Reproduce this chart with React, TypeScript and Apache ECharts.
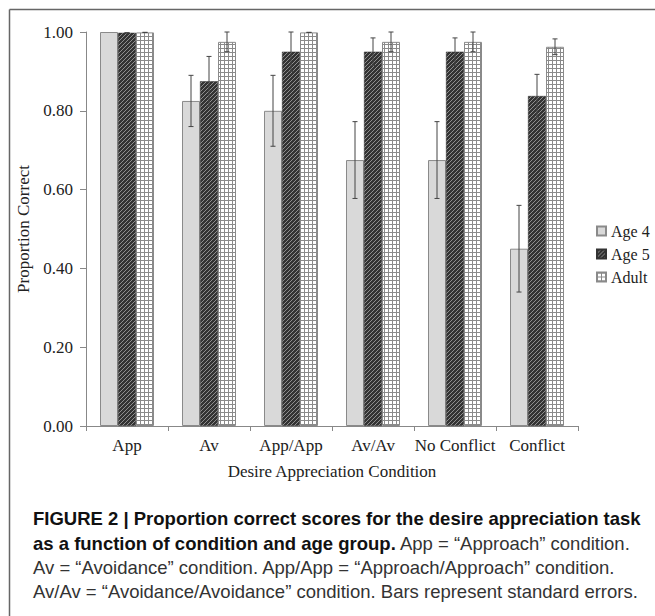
import React, { useEffect, useRef } from "react";
import * as echarts from "echarts";

const categories = ["App", "Av", "App/App", "Av/Av", "No Conflict", "Conflict"];
const seriesNames = ["Age 4", "Age 5", "Adult"];
const age4 = [1.0, 0.825, 0.8, 0.675, 0.675, 0.45];
const age5 = [0.998, 0.875, 0.95, 0.95, 0.95, 0.8375];
const adult = [0.999, 0.975, 0.999, 0.975, 0.975, 0.9625];
const age4Err = [null, 0.065, 0.09, 0.0975, 0.0975, 0.11];
const age5Err = [0, 0.063, 0.05, 0.035, 0.035, 0.055];
const adultErr = [0, 0.025, 0, 0.025, 0.025, 0.02];
const yTicks = [0, 0.2, 0.4, 0.6, 0.8, 1.0];

const captionLines = [
  [{ t: "FIGURE 2 | Proportion correct scores for the desire appreciation task", b: true }],
  [
    { t: "as a function of condition and age group.", b: true },
    { t: " App = \u201cApproach\u201d condition.", b: false },
  ],
  [{ t: "Av = \u201cAvoidance\u201d condition. App/App = \u201cApproach/Approach\u201d condition.", b: false }],
  [{ t: "Av/Av = \u201cAvoidance/Avoidance\u201d condition. Bars represent standard errors.", b: false }],
];

function makeTile(draw: (ctx: CanvasRenderingContext2D) => void, size: number) {
  const c = document.createElement("canvas");
  c.width = size;
  c.height = size;
  const ctx = c.getContext("2d")!;
  draw(ctx);
  return c;
}

export default function App() {
  const ref = useRef<HTMLDivElement>(null);
  useEffect(() => {
    document.body.style.margin = "0";
    if (!ref.current) return;
    const chart = echarts.init(ref.current, undefined, { renderer: "svg" });

    const darkTile = makeTile((ctx) => {
      ctx.fillStyle = "#333333";
      ctx.fillRect(0, 0, 4, 4);
      ctx.fillStyle = "#8f8f8f";
      for (let i = 0; i < 4; i++) ctx.fillRect(i, 3 - i, 1, 1);
    }, 4);
    const gridTile = makeTile((ctx) => {
      ctx.fillStyle = "#ffffff";
      ctx.fillRect(0, 0, 4, 4);
      ctx.fillStyle = "#8a8a8a";
      ctx.fillRect(0, 0, 4, 1);
      ctx.fillRect(0, 0, 1, 4);
    }, 4);

    const barW = 18;
    const values = [age4, age5, adult];
    const errs = [age4Err, age5Err, adultErr];
    const styles: any[] = [
      { color: "#d9d9d9", borderColor: "#8a8a8a", borderWidth: 1 },
      {
        color: { image: darkTile, repeat: "repeat", imageWidth: 4, imageHeight: 4 },
        borderColor: "#333",
        borderWidth: 0.5,
      },
      {
        color: { image: gridTile, repeat: "repeat", imageWidth: 4, imageHeight: 4 },
        borderColor: "#8a8a8a",
        borderWidth: 1,
      },
    ];

    const barSeries = seriesNames.map((name, i) => ({
      name,
      type: "bar",
      data: values[i],
      barWidth: barW,
      barGap: "0%",
      itemStyle: styles[i],
      z: 2,
    }));

    const errSeries = seriesNames.map((name, i) => ({
      name: name + " err",
      type: "custom",
      z: 5,
      data: values[i]
        .map((v, ci) => [ci, v, errs[i][ci]])
        .filter((d) => d[2] !== null),
      renderItem: (params: any, api: any) => {
        const ci = api.value(0);
        const v = api.value(1);
        const e = api.value(2);
        const cx = api.coord([ci, v])[0] + (i - 1) * barW;
        const top = api.coord([ci, Math.min(1, v + e)])[1];
        const bot = api.coord([ci, v - e])[1];
        const cap = 2.5;
        const st = { stroke: "#454545", lineWidth: 1 };
        return {
          type: "group",
          children: [
            { type: "line", shape: { x1: cx, y1: top, x2: cx, y2: bot }, style: st },
            { type: "line", shape: { x1: cx - cap, y1: top, x2: cx + cap, y2: top }, style: st },
            { type: "line", shape: { x1: cx - cap, y1: bot, x2: cx + cap, y2: bot }, style: st },
          ],
        };
      },
    }));

    const serif = "'Liberation Serif', 'DejaVu Serif', serif";
    const sans = "'Liberation Sans', Arial, sans-serif";

    const captionGraphics = captionLines.map((parts, li) => {
      const rich: any = {
        b: { fontFamily: sans, fontWeight: "bold", fontSize: 18.5, fill: "#111" },
        n: { fontFamily: sans, fontWeight: "normal", fontSize: 18.5, fill: "#333" },
      };
      const text = parts.map((p) => `{${p.b ? "b" : "n"}|${p.t}}`).join("");
      return {
        type: "text",
        x: 33,
        y: [518, 543, 567, 591][li],
        style: { text, rich, fontFamily: sans, fontSize: 18.5, verticalAlign: "middle" },
      };
    });

    chart.setOption({
      animation: false,
      backgroundColor: "#ffffff",
      grid: { left: 86, right: 77, top: 32, bottom: 190 },
      legend: {
        data: seriesNames,
        orient: "vertical",
        left: 596,
        top: 223,
        padding: 0,
        itemWidth: 9,
        itemHeight: 9,
        itemGap: 7,
        itemTextGap: 4,
        icon: "rect",
        textStyle: { fontFamily: serif, fontSize: 16, color: "#222", lineHeight: 16 },
      },
      xAxis: {
        type: "category",
        data: categories,
        axisLine: { lineStyle: { color: "#888", width: 1 } },
        axisTick: { show: true, length: 5, lineStyle: { color: "#888" } },
        axisLabel: { fontFamily: serif, fontSize: 17, color: "#222", margin: 11, interval: 0 },
        name: "Desire Appreciation Condition",
        nameLocation: "middle",
        nameGap: 37,
        nameTextStyle: { fontFamily: serif, fontSize: 17, color: "#222" },
      },
      yAxis: {
        type: "value",
        min: 0,
        max: 1,
        interval: 0.2,
        splitLine: { show: false },
        axisLine: { show: true, lineStyle: { color: "#888", width: 1 } },
        axisTick: { show: true, length: 6, lineStyle: { color: "#888" } },
        axisLabel: {
          fontFamily: serif,
          fontSize: 17,
          color: "#222",
          margin: 13,
          formatter: (v: number) => (yTicks.includes(Math.round(v * 10) / 10) ? v.toFixed(2) : ""),
        },
        name: "Proportion Correct",
        nameLocation: "middle",
        nameGap: 46,
        nameRotate: 90,
        nameTextStyle: { fontFamily: serif, fontSize: 17, color: "#222" },
      },
      graphic: [
        {
          type: "line",
          shape: { x1: 9.5, y1: 9.5, x2: 655, y2: 9.5 },
          style: { stroke: "#666", lineWidth: 1.5 },
        },
        {
          type: "line",
          shape: { x1: 9.5, y1: 9.5, x2: 9.5, y2: 616 },
          style: { stroke: "#666", lineWidth: 1.5 },
        },
        ...captionGraphics,
      ],
      series: [...barSeries, ...errSeries],
    });

    return () => chart.dispose();
  }, []);
  return <div ref={ref} style={{ width: 655, height: 616 }} />;
}
